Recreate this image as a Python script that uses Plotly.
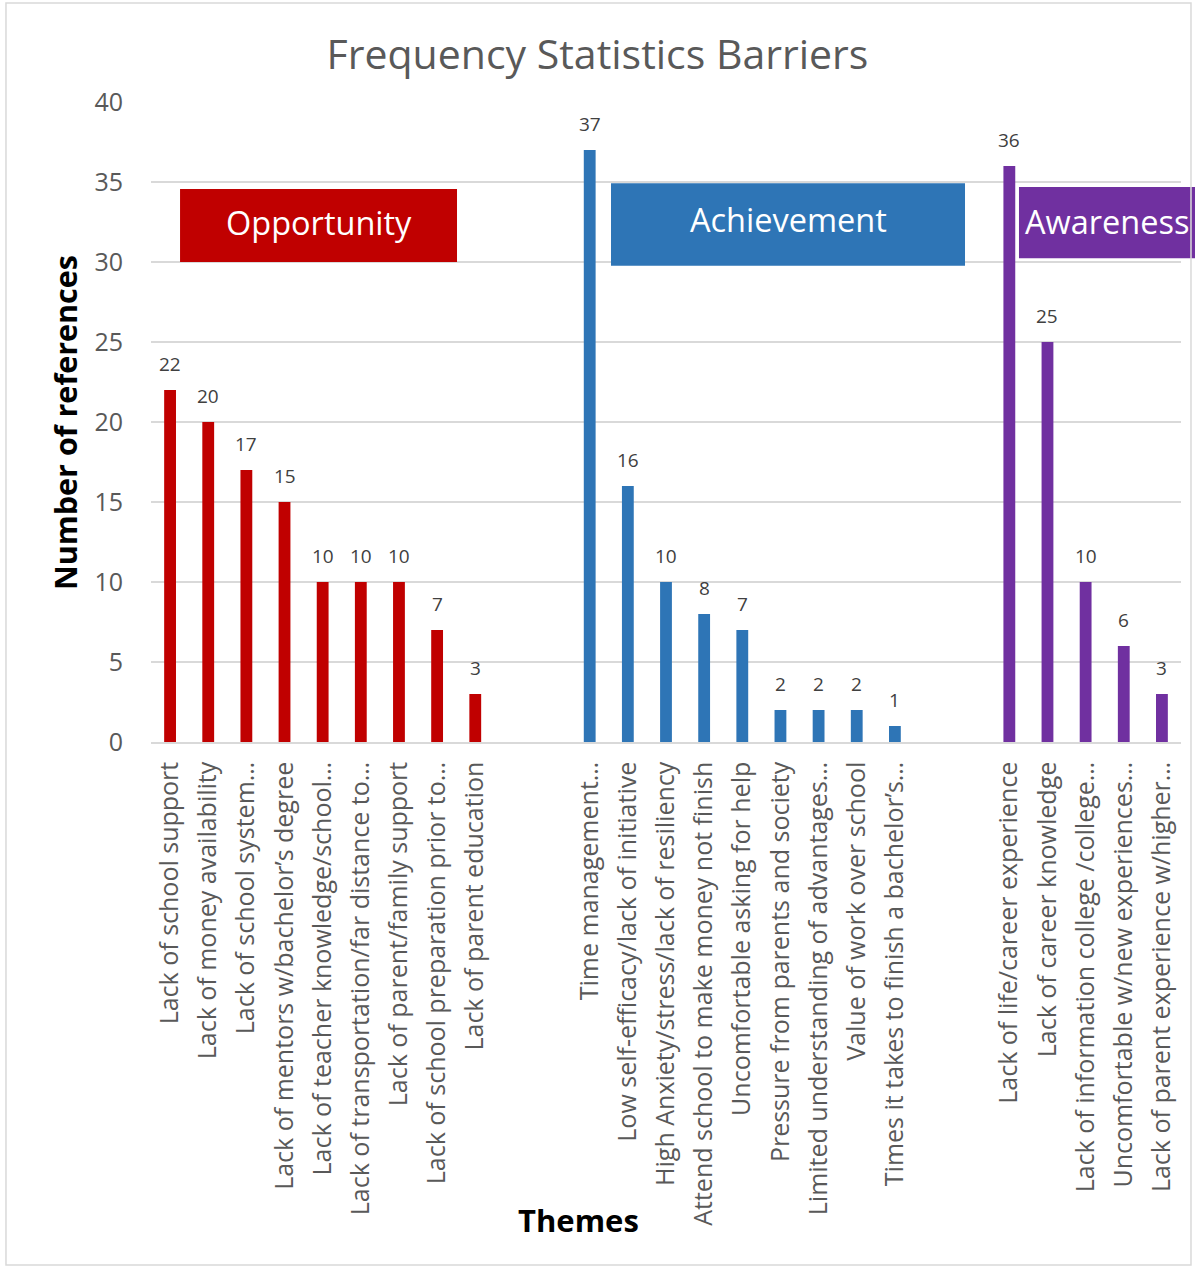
import plotly.graph_objects as go

# Theme groups, their barrier labels and reference counts
opportunity_labels = [
    "Lack of school support",
    "Lack of money availability",
    "Lack of school system…",
    "Lack of mentors w/bachelor’s degree",
    "Lack of teacher knowledge/school…",
    "Lack of transportation/far distance to…",
    "Lack of parent/family support",
    "Lack of school preparation prior to…",
    "Lack of parent education",
]
opportunity_values = [22, 20, 17, 15, 10, 10, 10, 7, 3]

achievement_labels = [
    "Time management…",
    "Low self-efficacy/lack of initiative",
    "High Anxiety/stress/lack of resiliency",
    "Attend school to make money not finish",
    "Uncomfortable asking for help",
    "Pressure from parents and society",
    "Limited understanding of advantages…",
    "Value of work over school",
    "Times it takes to finish a bachelor’s…",
]
achievement_values = [37, 16, 10, 8, 7, 2, 2, 2, 1]

awareness_labels = [
    "Lack of life/career experience",
    "Lack of career knowledge",
    "Lack of information college /college…",
    "Uncomfortable w/new experiences…",
    "Lack of parent experience w/higher…",
]
awareness_values = [36, 25, 10, 6, 3]

group_names = ["Opportunity", "Achievement", "Awareness"]
group_colors = ["#C00000", "#2E75B6", "#7030A0"]

y_ticks = [0, 5, 10, 15, 20, 25, 30, 35, 40]

groups = [
    (opportunity_labels, opportunity_values),
    (achievement_labels, achievement_values),
    (awareness_labels, awareness_values),
]

GAP = 2  # empty category slots between theme groups
FONT = "'Open Sans', sans-serif"
GRAY = "#595959"

fig = go.Figure()
tick_vals, tick_text = [], []
pos = 0
for (labels, values), name, color in zip(groups, group_names, group_colors):
    xs = list(range(pos, pos + len(labels)))
    fig.add_trace(go.Bar(
        x=xs, y=values, name=name, marker_color=color,
        marker_line_width=0, width=0.31, showlegend=False,
    ))
    for x, v in zip(xs, values):
        fig.add_annotation(
            x=x, y=v, text=str(v), showarrow=False, yanchor="bottom",
            yshift=11, font=dict(family=FONT, size=19, color="#404040"),
        )
    tick_vals += xs
    tick_text += labels
    pos += len(labels) + GAP

n_slots = pos - GAP

# Theme banners: text, colour, paper-space box, vertical text nudge (px)
banners = [
    ("Opportunity", "#C00000", 0.0282, 0.2971, 0.750, 0.864, 3),
    ("Achievement", "#2E75B6", 0.4466, 0.7903, 0.744, 0.873, 5),
    ("Awareness", "#7030A0", 0.8427, 1.0140, 0.756, 0.867, 1),
]
for text, color, x0, x1, y0, y1, nudge in banners:
    fig.add_shape(type="rect", xref="paper", yref="paper",
                  x0=x0, x1=x1, y0=y0, y1=y1,
                  fillcolor=color, line_width=0, layer="above")
    fig.add_annotation(xref="paper", yref="paper", x=(x0 + x1) / 2,
                       y=(y0 + y1) / 2, xanchor="center", yanchor="middle",
                       yshift=nudge, text=text, showarrow=False,
                       font=dict(family=FONT, size=32.5, color="white"))

# Axis titles
fig.add_annotation(xref="paper", yref="paper", x=-0.0835, y=0.5,
                   xanchor="center", yanchor="middle",
                   text="<b>Number of references</b>", textangle=-90,
                   showarrow=False,
                   font=dict(family=FONT, size=30.5, color="black"))
fig.add_annotation(xref="paper", yref="paper", x=0.4146, y=-0.747,
                   xanchor="center", yanchor="middle",
                   text="<b>Themes</b>", showarrow=False,
                   font=dict(family=FONT, size=31, color="black"))

# Outer chart border
fig.add_shape(type="rect", xref="paper", yref="paper",
              x0=-0.1408, x1=1.0097, y0=-0.817, y1=1.1547,
              line=dict(color="#D9D9D9", width=1.5), fillcolor="rgba(0,0,0,0)")

fig.update_layout(
    width=1195, height=1268,
    margin=dict(l=151, r=14, t=102, b=526),
    paper_bgcolor="white", plot_bgcolor="white",
    title=dict(text="Frequency Statistics Barriers", x=0.5, xref="container",
               xanchor="center", y=1 - 55 / 1268, yanchor="middle",
               font=dict(family=FONT, size=41, color=GRAY)),
    xaxis=dict(
        range=[-0.5, n_slots - 0.5], tickmode="array",
        tickvals=tick_vals, ticktext=tick_text, tickangle=-90,
        showgrid=False, zeroline=False, showline=True,
        linecolor="#D9D9D9", linewidth=1.5, ticks="",
        ticklabelstandoff=8,
        tickfont=dict(family=FONT, size=25, color=GRAY),
    ),
    yaxis=dict(
        range=[0, 40], tickmode="array", tickvals=y_ticks,
        showgrid=True, gridcolor="#D9D9D9", gridwidth=1.5,
        zeroline=False, showline=False, ticks="",
        ticklabelstandoff=27,
        tickfont=dict(family=FONT, size=25, color=GRAY),
    ),
    bargap=0.69,
)

fig.write_html("out.html")
